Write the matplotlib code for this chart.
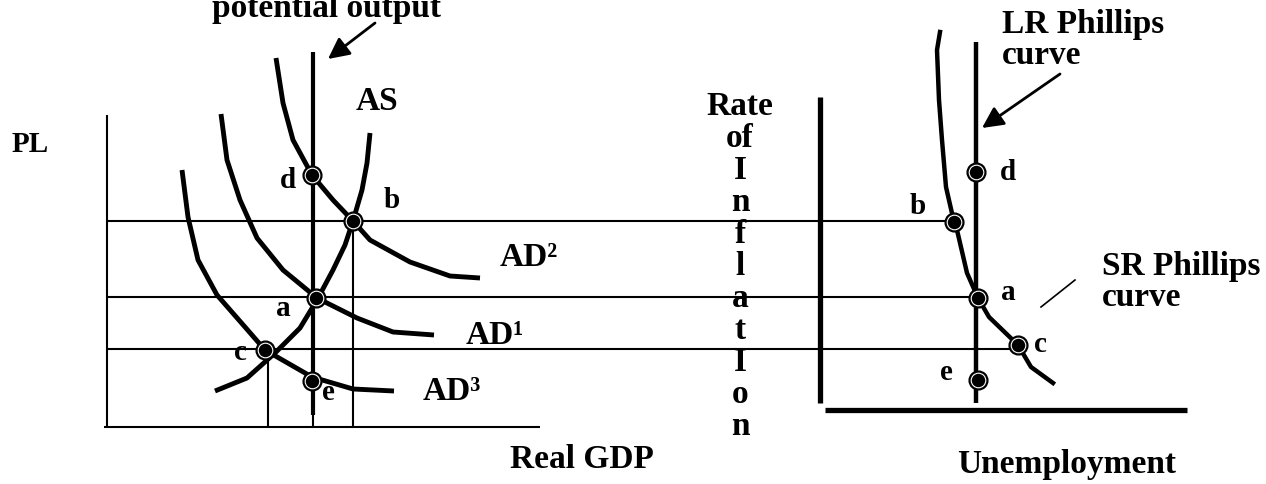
import matplotlib.pyplot as plt

plt.rcParams['font.family'] = ['Liberation Serif', 'DejaVu Serif']
plt.rcParams['font.weight'] = 'bold'

# ---- left panel: AD / AS diagram (pixel coordinates, y grows downward) ----
sras_x = [215, 247, 275, 300, 317, 333, 345, 353, 362, 367, 370]
sras_y = [391, 378, 353, 328, 300, 270, 245, 221, 190, 163, 133]

ad2_x = [276, 283, 293, 312, 333, 353, 370, 410, 450, 480]
ad2_y = [58, 103, 140, 175, 200, 221, 240, 262, 276, 278]
ad1_x = [221, 227, 240, 257, 283, 317, 357, 393, 434]
ad1_y = [114, 160, 200, 238, 270, 298, 318, 332, 335]
ad3_x = [182, 188, 198, 217, 245, 265, 312, 353, 394]
ad3_y = [170, 217, 260, 295, 327, 350, 377, 389, 391]

left_pts = ['d', 'b', 'a', 'c', 'e']
left_px = [312, 353, 316, 265, 312]
left_py = [175, 221, 298, 350, 381]

# ---- right panel: Phillips curves ----
srpc_x = [940, 937, 939, 942, 946, 954, 957, 967, 978, 989, 1018, 1031, 1053]
srpc_y = [32, 50, 100, 140, 187, 222, 230, 273, 298, 317, 345, 367, 383]

right_pts = ['d', 'b', 'a', 'c', 'e']
right_px = [976, 954, 978, 1018, 978]
right_py = [172, 222, 298, 345, 380]

# price levels carried over to the inflation axis (b, a, c)
link_y = [221, 297, 349]
link_x_end = [954, 978, 1018]

inflation_letters = ['Rate', 'of', 'I', 'n', 'f', 'l', 'a', 't', 'I', 'o', 'n']

fig = plt.figure(figsize=(12.66, 4.84), dpi=100)
ax = fig.add_axes([0, 0, 1, 1])
ax.set_xlim(0, 1266)
ax.set_ylim(484, 0)
ax.axis('off')

thin = dict(color='k', lw=1.5, solid_capstyle='butt')
thick = dict(color='k', lw=3.5, solid_capstyle='butt')

# left axes and guide lines
ax.plot([107, 107], [115, 427], **thin)
ax.plot([104, 540], [427, 427], **thin)
for y, xe in zip(link_y, link_x_end):
    ax.plot([107, xe], [y, y], **thin)
ax.plot([268, 268], [349, 427], **thin)
ax.plot([353, 353], [221, 427], **thin)
ax.plot([313, 313], [410, 427], **thin)

# potential output line and curves
ax.plot([313, 313], [52, 415], color='k', lw=3, solid_capstyle='butt')
for cx, cy in [(sras_x, sras_y), (ad2_x, ad2_y), (ad1_x, ad1_y), (ad3_x, ad3_y)]:
    ax.plot(cx, cy, **thick)

# right axes
ax.plot([820, 820], [97, 403], color='k', lw=3.8, solid_capstyle='butt')
ax.plot([825, 1187], [410, 410], color='k', lw=3.8, solid_capstyle='butt')
ax.plot([976, 976], [42, 403], color='k', lw=3.2, solid_capstyle='butt')
ax.plot(srpc_x, srpc_y, color='k', lw=3.2)
ax.plot([1075, 1041], [280, 307], color='k', lw=1.2)

# equilibrium dots (black with a thin white ring)
for px, py in [(left_px, left_py), (right_px, right_py)]:
    ax.plot(px, py, 'o', ms=13.5, mfc='k', mec='k', zorder=5)
    ax.plot(px, py, 'o', ms=10.5, mfc='k', mec='white', mew=0.8, zorder=6)

# arrows
arrow = dict(arrowstyle='-|>', color='k', lw=2, mutation_scale=32,
             shrinkA=0, shrinkB=0)
ax.annotate('', xy=(328, 59), xytext=(375, 23), arrowprops=arrow)
ax.annotate('', xy=(982, 128), xytext=(1060, 74), arrowprops=arrow)

# text
big = 24
small = 21
ax.text(327, 17, 'potential output', ha='center', va='baseline', fontsize=big)
ax.text(377, 102, 'AS', ha='center', va='center', fontsize=big)
ax.text(30, 145, 'PL', ha='center', va='center', fontsize=21)
ax.text(500, 258, 'AD²', ha='left', va='center', fontsize=big)
ax.text(466, 336, 'AD¹', ha='left', va='center', fontsize=big)
ax.text(423, 391, 'AD³', ha='left', va='center', fontsize=big)
ax.text(582, 460, 'Real GDP', ha='center', va='center', fontsize=big)

left_lab_x = [288, 392, 283, 240, 328]
left_lab_y = [180, 200, 308, 353, 393]
for t, lx, ly in zip(left_pts, left_lab_x, left_lab_y):
    ax.text(lx, ly, t, ha='center', va='center', fontsize=small)

right_lab_x = [1008, 918, 1008, 1040, 946]
right_lab_y = [173, 207, 293, 345, 373]
for t, lx, ly in zip(right_pts, right_lab_x, right_lab_y):
    ax.text(lx, ly, t, ha='center', va='center', fontsize=small)

for i, t in enumerate(inflation_letters):
    ax.text(740, 115 + 32 * i, t, ha='center', va='baseline', fontsize=big)

ax.text(1002, 25, 'LR Phillips', ha='left', va='center', fontsize=big)
ax.text(1002, 56, 'curve', ha='left', va='center', fontsize=big)
ax.text(1102, 267, 'SR Phillips', ha='left', va='center', fontsize=big)
ax.text(1102, 297, 'curve', ha='left', va='center', fontsize=big)
ax.text(1067, 464, 'Unemployment', ha='center', va='center', fontsize=big)

fig.savefig('out.png', dpi=100)
